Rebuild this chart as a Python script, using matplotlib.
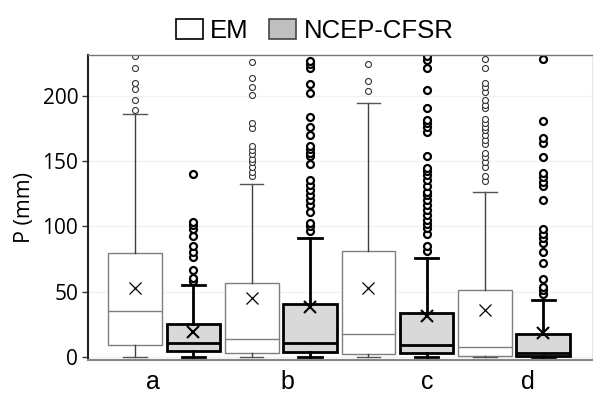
import matplotlib
matplotlib.use('Agg')
import matplotlib.pyplot as plt
from matplotlib.patches import Patch

# Estatisticas (P em mm): EM e NCEP-CFSR para a, b, c, d
series = ['EM', 'NCEP-CFSR', 'EM', 'NCEP-CFSR', 'EM', 'NCEP-CFSR', 'EM', 'NCEP-CFSR']
q1 = [9, 5, 3, 4, 2.5, 3, 0.5, 1]
med = [35, 11, 14, 10.5, 18, 9, 7.5, 3]
q3 = [80, 25, 56.5, 40.5, 81, 33.5, 51.5, 18]
mean = [53, 19.5, 45, 38, 52.5, 31.5, 36, 18.5]
wlo = [0, 0, 0, 0, 0, 0, 0, 0]
whi = [186, 55, 132.5, 91.5, 194.5, 75.5, 126.5, 43.5]
outliers = [
    [189.5, 197, 205.5, 210, 221, 230.5],
    [58.5, 60.5, 67, 76.5, 80.5, 85, 92.5, 98, 101, 103.5, 140.5],
    [138.5, 142, 145.5, 149, 152, 155.5, 158.5, 161.5, 175, 179, 200.5, 207, 213.5, 226],
    [96.5, 100, 102.5, 111, 116.5, 120, 124, 128, 131.5, 135.5, 148, 154, 156.5, 159,
     161.5, 170, 176, 184, 202.5, 209, 221.5, 224.5, 227],
    [203.5, 211, 224.5],
    [81.5, 85, 94, 98.5, 102, 105, 108.5, 112.5, 116.5, 120.5, 124, 126.5, 131, 135.5,
     139.5, 142.5, 145, 154, 172.5, 176, 179, 181.5, 191, 204.5, 221.5, 227.5, 230.5],
    [135, 138.5, 145.5, 149.5, 153, 156, 163, 166.5, 170, 173.5, 176, 179, 182, 190.5,
     193, 197, 203, 206.5, 209.5, 221, 228.5],
    [48, 51, 53.5, 60, 72, 80.5, 87, 91, 94, 98, 120, 131, 134, 138, 141, 153, 164, 167.5,
     180.5, 228.5],
]
grupos = ['a', 'b', 'c', 'd']
grupo_pos = [0.31, 2.61, 5.01, 6.74]

plt.figure(figsize=(5.94, 3.97), dpi=100)
ax = plt.axes([0.148, 0.093, 0.849, 0.769])

for i in range(len(series)):
    st = {'q1': q1[i], 'med': med[i], 'q3': q3[i], 'mean': mean[i],
          'whislo': wlo[i], 'whishi': whi[i], 'fliers': outliers[i]}
    if series[i] == 'EM':
        cor, lw, fill = '#7f7f7f', 1.0, 'white'
        flier = dict(marker='o', markersize=4.3, markerfacecolor='white',
                     markeredgecolor='#333333', markeredgewidth=0.8, linestyle='none')
        mk = dict(marker='x', markersize=9, markeredgecolor='black', markeredgewidth=0.9)
        wcor, ccor = '#404040', '#555555'
    else:
        cor, lw, fill = 'black', 2.0, '#d9d9d9'
        flier = dict(marker='o', markersize=5, markerfacecolor='white',
                     markeredgecolor='black', markeredgewidth=1.6, linestyle='none')
        mk = dict(marker='x', markersize=9, markeredgecolor='black', markeredgewidth=1.5)
        wcor, ccor = 'black', 'black'
    ax.bxp([st], positions=[i], widths=0.92, patch_artist=True, showmeans=True,
           boxprops=dict(facecolor=fill, edgecolor=cor, linewidth=lw),
           medianprops=dict(color=cor, linewidth=lw),
           whiskerprops=dict(color=wcor, linewidth=lw),
           capprops=dict(color=ccor, linewidth=lw),
           flierprops=flier, meanprops=mk, capwidths=0.4)

# Eixos
ax.set_xlim(-0.81, 7.84)
ax.set_ylim(-2.3, 231.4)
ax.set_yticks([0, 50, 100, 150, 200])
ax.set_xticks(grupo_pos)
ax.set_xticklabels(grupos, fontsize=18, family='Liberation Sans')
ax.tick_params(axis='x', length=0, pad=7)
ax.tick_params(axis='y', length=4, width=1, labelsize=15, color='#333333', pad=3)
for t in ax.get_yticklabels():
    t.set_family('Open Sans')
ax.set_ylabel('P (mm)', fontsize=15.5, family='Open Sans', labelpad=5)

ax.spines['left'].set_color('#222222')
ax.spines['left'].set_linewidth(1.5)
ax.spines['bottom'].set_color('#888888')
ax.spines['bottom'].set_linewidth(1.5)
ax.spines['top'].set_color('#777777')
ax.spines['top'].set_linewidth(1.0)
ax.spines['right'].set_color('#e6e6e6')

# Grade bem clara
ax.yaxis.grid(True, color='#f2f2f2', linewidth=1)
ax.set_axisbelow(True)

# Legenda
handles = [Patch(facecolor='white', edgecolor='black', linewidth=1.2, label='EM'),
           Patch(facecolor='#bfbfbf', edgecolor='#444444', linewidth=1.2, label='NCEP-CFSR')]
plt.figlegend(handles=handles, loc='center', bbox_to_anchor=(0.53, 0.922), ncol=2,
              frameon=False, prop={'family': 'Liberation Sans', 'size': 18.5},
              handlelength=1.05, handleheight=0.85, handletextpad=0.28, columnspacing=0.8)

plt.savefig('out.png', dpi=100)
